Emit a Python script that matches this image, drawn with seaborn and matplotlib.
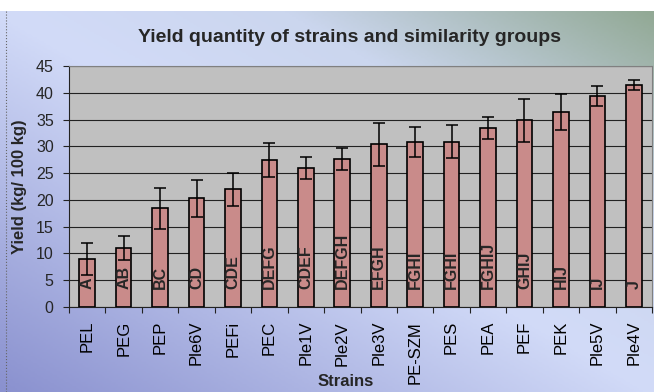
import matplotlib
matplotlib.use("Agg")
import matplotlib.pyplot as plt
from matplotlib.colors import LinearSegmentedColormap
from matplotlib.lines import Line2D
import numpy as np
import pandas as pd
import seaborn as sns

strains = ["PEL", "PEG", "PEP", "Ple6V", "PEFi", "PEC", "Ple1V", "Ple2V",
           "Ple3V", "PE-SZM", "PES", "PEA", "PEF", "PEK", "Ple5V", "Ple4V"]
yields = [9.0, 11.0, 18.4, 20.3, 22.0, 27.4, 26.0, 27.6,
          30.4, 30.9, 30.9, 33.4, 34.9, 36.4, 39.4, 41.5]
errors = [3.0, 2.3, 3.9, 3.5, 3.1, 3.2, 2.1, 2.0,
          4.0, 2.8, 3.0, 2.0, 4.0, 3.3, 1.9, 0.9]
groups = ["A", "AB", "BC", "CD", "CDE", "DEFG", "CDEF", "DEFGH",
          "EFGH", "FGHI", "FGHI", "FGHIJ", "GHIJ", "HIJ", "IJ", "J"]

df = pd.DataFrame({"strain": strains, "yield": yields})

sns.set_style("white")
plt.rcParams["font.family"] = ["Liberation Sans", "DejaVu Sans"]

fig = plt.figure(figsize=(6.54, 3.92), dpi=100)
fig.patch.set_facecolor("white")

# slide-like diagonal gradient background
bg = fig.add_axes([0, 0, 1, 1 - 11 / 392])
bg.axis("off")
xx, yy = np.meshgrid(np.linspace(0, 1, 300), np.linspace(0, 1, 200))
t = (xx + yy) / 2
cmap = LinearSegmentedColormap.from_list(
    "bg", [(0.0, "#8a91cf"), (0.5, "#d2dbf8"), (0.72, "#cbd6ee"), (1.0, "#92a995")])
bg.imshow(t, cmap=cmap, origin="lower", aspect="auto", extent=[0, 1, 0, 1])
fig.add_artist(Line2D([6 / 654, 6 / 654], [0, 1 - 11 / 392], ls=":", color="#666666", lw=0.8))

ax = fig.add_axes([69 / 654, 1 - 307 / 392, 583 / 654, 241 / 392])
ax.set_facecolor("#c0c0c0")
sns.barplot(data=df, x="strain", y="yield", color="#c98b8a", width=0.43,
            edgecolor="black", linewidth=1.2, saturation=1, errorbar=None, ax=ax, zorder=3)
ax.errorbar(np.arange(len(strains)), yields, yerr=errors, fmt="none",
            ecolor="black", elinewidth=1.1, capsize=4, capthick=1.1, zorder=4)

for i, g in enumerate(groups):
    ax.text(i, 3.4, g, rotation=90, ha="center", va="bottom",
            fontsize=11.5, fontweight="bold", zorder=5)

ax.set_ylim(0, 45)
ax.set_xlim(-0.5, len(strains) - 0.5)
ax.set_yticks(range(0, 46, 5))
ax.yaxis.grid(True, color="#222222", lw=0.8, zorder=0)
ax.set_axisbelow(True)

ax.set_xticks(np.arange(len(strains)))
ax.set_xticklabels(strains, rotation=90, fontsize=12)
ax.set_xticks(np.arange(-0.5, len(strains)), minor=True)
ax.tick_params(axis="x", which="major", length=0, pad=10, colors="black")
ax.tick_params(axis="x", which="minor", length=4, width=0.8, color="#222222", bottom=True)
ax.tick_params(axis="y", length=4, width=0.8, pad=7, labelsize=11.5, left=True, color="#222222")

for side in ["top", "right"]:
    ax.spines[side].set_color("#808080")
    ax.spines[side].set_linewidth(0.8)
for side in ["left", "bottom"]:
    ax.spines[side].set_color("#222222")
    ax.spines[side].set_linewidth(0.8)

ax.set_xlabel("Strains", fontsize=12, fontweight="bold")
ax.xaxis.set_label_coords(0.475, -0.28)
ax.set_ylabel("Yield (kg/ 100 kg)", fontsize=12, fontweight="bold")
ax.yaxis.set_label_coords(-0.072, 0.5)

fig.text(0.535, 1 - 37 / 392, "Yield quantity of strains and similarity groups",
         ha="center", va="center", fontsize=14, fontweight="bold")

fig.savefig("out.png", dpi=100)
